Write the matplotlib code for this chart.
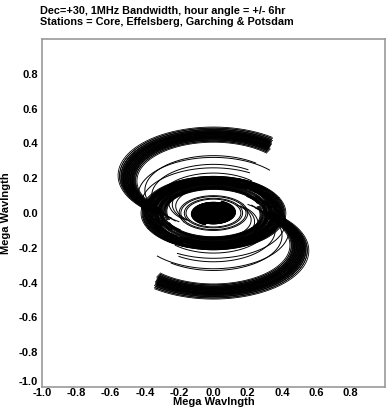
import numpy as np
import matplotlib
matplotlib.use("Agg")
import matplotlib.pyplot as plt

plt.rcParams["font.family"] = ["Liberation Sans", "DejaVu Sans"]

# =====================================================
# OBSERVATION SETUP
# =====================================================

DEC_DEG = 30.0
HA_LIMIT_DEG = 90.0          # +/- 6 hr
CHANNEL_SCALE = [0.97, 0.985, 1.0, 1.015, 1.03]   # across the 1 MHz band

# baselines: length in uv-plane (Mega wavelength), baseline hour angle (deg),
# projected polar component (v offset)

# core - remote stations (outer S band)
S_LEN = [0.46, 0.47, 0.48, 0.49, 0.50, 0.51, 0.52, 0.53, 0.54]
S_HANG = [226, 227, 228, 228, 229, 230, 230, 231, 232]
S_VOFF = [0.19, 0.19, 0.195, 0.20, 0.20, 0.20, 0.205, 0.21, 0.21]

# remote - remote (thin arcs)
T_LEN = [0.40, 0.36, 0.32, 0.44, 0.42]
T_HANG = [232, 236, 226, 222, 240]
T_VOFF = [0.13, 0.10, 0.07, 0.10, 0.05]

# main ring
R_LEN = [0.28, 0.30, 0.31, 0.32, 0.33, 0.34, 0.35, 0.36, 0.37, 0.38,
         0.39, 0.40, 0.41]
R_HANG = [200, 215, 230, 245, 260, 210, 225, 240, 255, 235, 220, 250, 205]
R_VOFF = [0.01, -0.01, 0.02, 0.0, -0.02, 0.015, 0.0, -0.01, 0.005, 0.0,
          0.01, -0.005, 0.0]

# medium baselines
M_LEN = [0.16, 0.17, 0.19, 0.20, 0.22, 0.24, 0.26]
M_HANG = [229, 240, 220, 210, 231, 229, 227]
M_VOFF = [0.0, 0.0, 0.0, 0.0, 0.04, 0.05, 0.06]

# core - core
C_LEN = [0.02, 0.035, 0.05, 0.065, 0.08, 0.095, 0.11, 0.12]
C_HANG = [229, 200, 250, 215, 235, 260, 225, 245]
C_VOFF = [0.0, 0.0, 0.0, 0.0, 0.0, 0.0, 0.0, -0.005]

X_TICKS = [-0.8, -0.4, -0.2, 0.0, 0.2, 0.4, 0.6, 0.8]
Y_TICKS = [0.8, 0.6, 0.4, 0.2, 0.0, -0.2, -0.6, -0.8]
LABELS = [-1.0, -0.8, -0.6, -0.4, -0.2, 0.0, 0.2, 0.4, 0.6, 0.8]

fig = plt.figure(figsize=(3.92, 4.07), dpi=100)
ax = fig.add_axes([0.107, 0.049, 0.875, 0.855])

ha = np.radians(np.linspace(-HA_LIMIT_DEG, HA_LIMIT_DEG, 241))
sin_dec = np.sin(np.radians(DEC_DEG))


def draw_tracks(lengths, hangs, voffs, lw, scales):
    for L, h, c in zip(lengths, hangs, voffs):
        th = ha + np.radians(h)
        for s in scales:
            u = s * L * np.sin(th)
            v = s * (c - sin_dec * L * np.cos(th))
            ax.plot(u, v, color="black", lw=lw)
            ax.plot(-u, -v, color="black", lw=lw)


draw_tracks(S_LEN, S_HANG, S_VOFF, 0.6, CHANNEL_SCALE)
draw_tracks(T_LEN, T_HANG, T_VOFF, 0.7, [1.0])
draw_tracks(R_LEN, R_HANG, R_VOFF, 0.6, CHANNEL_SCALE)
draw_tracks(M_LEN, M_HANG, M_VOFF, 0.7, [1.0])
draw_tracks(C_LEN, C_HANG, C_VOFF, 2.0, CHANNEL_SCALE)

ax.set_xlim(-1.0, 1.0)
ax.set_ylim(-1.0, 1.0)

ax.set_xticks(LABELS)
ax.set_yticks(LABELS)
ax.set_xticklabels([f"{t:.1f}" for t in LABELS])
ax.set_yticklabels([f"{t:.1f}" for t in LABELS])
ax.tick_params(which="major", length=0, labelsize=8)
ax.tick_params(axis="x", which="major", pad=1)
ax.tick_params(axis="y", which="major", pad=3)
for lab in ax.get_xticklabels() + ax.get_yticklabels():
    lab.set_fontweight("bold")
# bottom y label sits a bit higher, above the x one
ax.get_yticklabels()[0].set_verticalalignment("bottom")

ax.set_xticks(X_TICKS, minor=True)
ax.set_yticks(Y_TICKS, minor=True)
ax.tick_params(which="minor", direction="in", length=6, width=1,
               color="#777777", top=True, right=True)

for sp in ax.spines.values():
    sp.set_color("#999999")
    sp.set_linewidth(1.2)

ax.set_xlabel("Mega Wavlngth", fontsize=8, fontweight="bold", labelpad=-1)
ax.set_ylabel("Mega Wavlngth", fontsize=8, fontweight="bold", labelpad=5)

fig.text(0.102, 0.973, "Dec=+30, 1MHz Bandwidth, hour angle = +/- 6hr",
         fontsize=7.8, fontweight="bold", va="center")
fig.text(0.102, 0.945, "Stations = Core, Effelsberg, Garching & Potsdam",
         fontsize=7.8, fontweight="bold", va="center")

fig.savefig("out.png", dpi=100)
